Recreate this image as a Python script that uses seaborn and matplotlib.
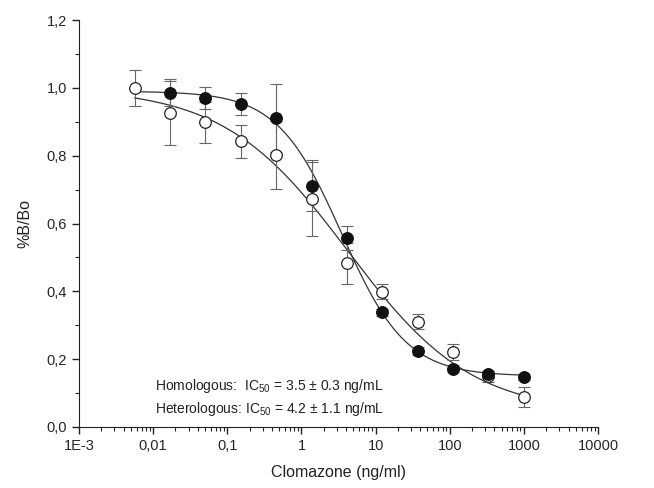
import numpy as np
import pandas as pd
import matplotlib
matplotlib.use("Agg")
import matplotlib.pyplot as plt
import matplotlib.ticker as mticker
import seaborn as sns

# concentrations (ng/mL), 1:3 dilution series
conc_open = [0.00565, 0.0169, 0.0508, 0.152, 0.457, 1.37, 4.12, 12.3, 37.0, 111, 333, 1000]
bbo_open = [1.000, 0.925, 0.898, 0.842, 0.803, 0.672, 0.483, 0.399, 0.310, 0.222, 0.149, 0.088]
err_open = [0.053, 0.095, 0.060, 0.048, 0.100, 0.108, 0.060, 0.022, 0.022, 0.024, 0.015, 0.030]

conc_fill = [0.0169, 0.0508, 0.152, 0.457, 1.37, 4.12, 12.3, 37.0, 111, 333, 1000]
bbo_fill = [0.985, 0.970, 0.953, 0.912, 0.711, 0.558, 0.338, 0.224, 0.172, 0.155, 0.148]
err_fill = [0.040, 0.033, 0.033, 0.100, 0.075, 0.035, 0.010, 0.012, 0.010, 0.010, 0.008]

# four-parameter logistic fits: top, bottom, IC50, slope
fit_fill = (0.99, 0.15, 3.5, 1.0)
fit_open = (1.00, 0.04, 4.2, 0.52)

x_ticks = [1e-3, 1e-2, 1e-1, 1, 10, 100, 1000, 10000]
x_ticklabels = ["1E-3", "0,01", "0,1", "1", "10", "100", "1000", "10000"]
y_ticks = [0.0, 0.2, 0.4, 0.6, 0.8, 1.0, 1.2]


def logistic(x, p):
    top, bottom, ic50, h = p
    return (top - bottom) / (1 + (x / ic50) ** h) + bottom


sns.set_style("ticks")
plt.rcParams["font.family"] = ["Liberation Sans", "DejaVu Sans"]
plt.rcParams["mathtext.fontset"] = "custom"
plt.rcParams["mathtext.rm"] = "Liberation Sans"
plt.rcParams["mathtext.it"] = "Liberation Sans"

fig = plt.figure(figsize=(6.54, 4.88), dpi=100)
ax = fig.add_axes([0.1208, 0.125, 0.7936, 0.834])

xs = np.logspace(np.log10(0.0056), 3, 300)
curves = pd.concat([
    pd.DataFrame({"x": xs, "y": logistic(xs, fit_fill), "set": "fill"}),
    pd.DataFrame({"x": xs, "y": logistic(xs, fit_open), "set": "open"}),
])
sns.lineplot(data=curves, x="x", y="y", units="set", estimator=None,
             color="#333333", lw=0.9, ax=ax, legend=False)

ax.errorbar(conc_open, bbo_open, yerr=err_open, fmt="none", ecolor="#666666",
            elinewidth=0.8, capsize=4, capthick=0.8, zorder=3)
ax.errorbar(conc_fill, bbo_fill, yerr=err_fill, fmt="none", ecolor="#666666",
            elinewidth=0.8, capsize=4, capthick=0.8, zorder=3)

pts_open = pd.DataFrame({"x": conc_open, "y": bbo_open})
pts_fill = pd.DataFrame({"x": conc_fill, "y": bbo_fill})
sns.scatterplot(data=pts_open, x="x", y="y", marker="o", s=70, facecolor="white",
                edgecolor="#222222", linewidth=0.9, ax=ax, zorder=4)
sns.scatterplot(data=pts_fill, x="x", y="y", marker="o", s=70, color="#111111",
                edgecolor="#111111", linewidth=0.9, ax=ax, zorder=5)

ax.set_xscale("log")
ax.set_xlim(1e-3, 1e4)
ax.set_ylim(0, 1.2)
ax.set_xticks(x_ticks)
ax.set_xticklabels(x_ticklabels)
ax.xaxis.set_minor_locator(mticker.LogLocator(base=10, subs=np.arange(2, 10)))
ax.xaxis.set_minor_formatter(mticker.NullFormatter())
ax.set_yticks(y_ticks)
ax.set_yticklabels([f"{v:.1f}".replace(".", ",") for v in y_ticks])
ax.yaxis.set_minor_locator(mticker.MultipleLocator(0.1))
ax.tick_params(which="major", length=5, width=1, labelsize=10.5, color="#222222")
ax.tick_params(which="minor", length=3, width=0.8, color="#222222")
for s in ["left", "bottom"]:
    ax.spines[s].set_color("#222222")
sns.despine(ax=ax)

ax.set_xlabel("Clomazone (ng/ml)", fontsize=11.5, labelpad=9, color="#222222")
ax.set_ylabel("%B/Bo", fontsize=11.5, labelpad=10, color="#222222")

ax.text(0.0106, 0.109, "Homologous:  IC$_{50}$ = 3.5 ± 0.3 ng/mL", fontsize=10,
        va="baseline", color="#222222")
ax.text(0.0106, 0.041, "Heterologous: IC$_{50}$ = 4.2 ± 1.1 ng/mL", fontsize=10,
        va="baseline", color="#222222")

fig.savefig("out.png", dpi=100)
